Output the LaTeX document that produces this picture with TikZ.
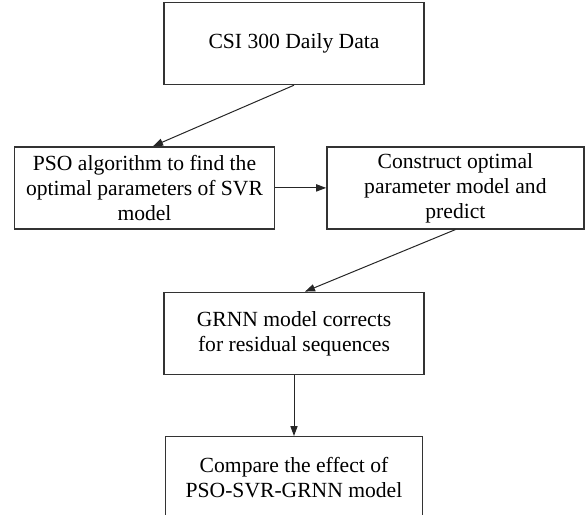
\documentclass[tikz,border=0pt]{standalone}
\usepackage{fontspec}
\setmainfont{Liberation Serif}
\usetikzlibrary{positioning}
\usetikzlibrary{calc}
\usetikzlibrary{arrows.meta}

\begin{document}
\begin{tikzpicture}[box/.style={rectangle, draw=black!80, line width=0.7pt, minimum width=130pt, minimum height=41pt, inner sep=0pt, align=center, font=\fontsize{10.8}{12.5}\selectfont},
    link/.style={-{Triangle[length=5pt, width=3.6pt]}, line width=0.5pt, black!85}]
            \useasboundingbox (0,0) rectangle (292.5pt,-257.5pt);
            \node[box] (data) at (147pt,-21.75pt) {CSI 300 Daily Data};
            \node[box, below = 30.5pt of data, xshift=-74.75pt] (pso_search) {PSO algorithm to find the\\optimal parameters of SVR\\model};
            \node[box, right = 25.5pt of pso_search, minimum width=128.5pt] (opt_model) {Construct optimal\\parameter model and\\predict};
            \node[box, below = 31pt of pso_search, xshift=74.75pt] (grnn_fix) {GRNN model corrects\\for residual sequences};
            \node[box, below = 30.5pt of grnn_fix, minimum width=128.5pt] (compare) {Compare the effect of\\PSO-SVR-GRNN model};

            \draw[link] (data.south) -- ([xshift=4.25pt]pso_search.north);
            \draw[link] (pso_search.east) -- (opt_model.west);
            \draw[link] (opt_model.south) -- ([xshift=5.5pt]grnn_fix.north);
            \draw[link] (grnn_fix.south) -- (compare.north);
        \end{tikzpicture}
\end{document}
